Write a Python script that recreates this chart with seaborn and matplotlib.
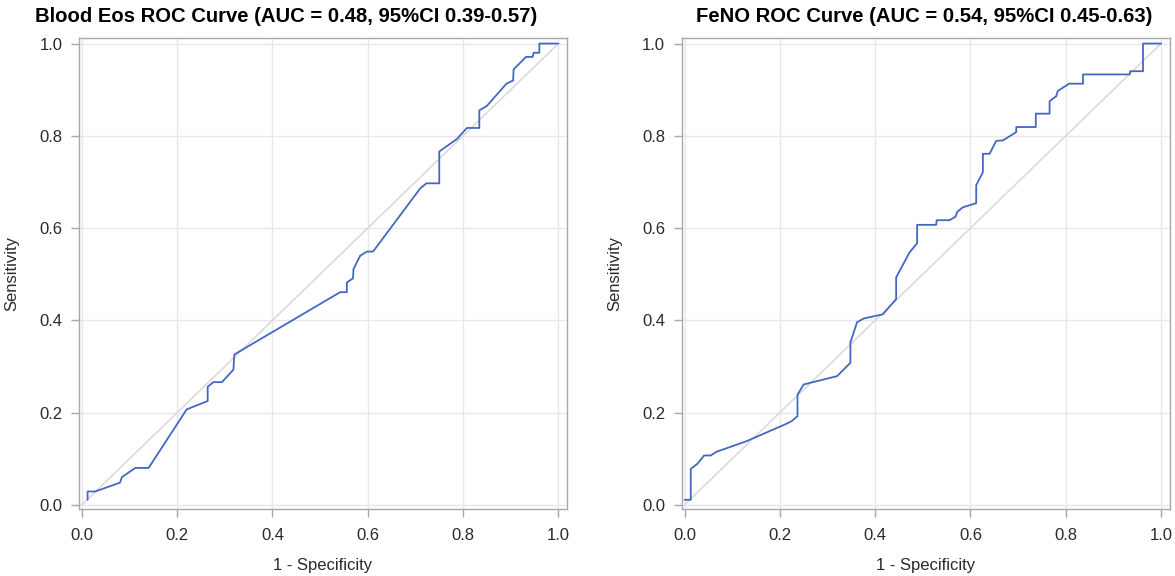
import matplotlib
matplotlib.use("Agg")
import matplotlib.pyplot as plt
import seaborn as sns
import pandas as pd

# ---- data ----
eos_fpr = [0.012, 0.012, 0.028, 0.080, 0.084, 0.112, 0.140, 0.220, 0.264, 0.264,
           0.276, 0.294, 0.318, 0.320, 0.542, 0.556, 0.556, 0.569, 0.570, 0.584,
           0.598, 0.611, 0.710, 0.723, 0.750, 0.750, 0.787, 0.808, 0.834, 0.834,
           0.850, 0.891, 0.905, 0.906, 0.932, 0.946, 0.948, 0.960, 0.960, 1.000]
eos_tpr = [0.011, 0.029, 0.029, 0.048, 0.060, 0.080, 0.080, 0.207, 0.225, 0.256,
           0.266, 0.266, 0.293, 0.326, 0.461, 0.461, 0.482, 0.491, 0.511, 0.540,
           0.549, 0.549, 0.686, 0.697, 0.697, 0.766, 0.793, 0.817, 0.817, 0.855,
           0.865, 0.913, 0.920, 0.944, 0.971, 0.971, 0.980, 0.980, 1.000, 1.000]

feno_fpr = [0.000, 0.013, 0.013, 0.027, 0.041, 0.055, 0.067, 0.130, 0.210, 0.224,
            0.237, 0.237, 0.250, 0.320, 0.348, 0.348, 0.362, 0.376, 0.416, 0.444,
            0.444, 0.472, 0.488, 0.488, 0.528, 0.529, 0.556, 0.569, 0.572, 0.584,
            0.612, 0.612, 0.626, 0.626, 0.640, 0.654, 0.668, 0.696, 0.696, 0.737,
            0.737, 0.766, 0.766, 0.780, 0.783, 0.807, 0.836, 0.836, 0.934, 0.935,
            0.962, 0.962, 1.000]
feno_tpr = [0.011, 0.011, 0.078, 0.089, 0.107, 0.107, 0.115, 0.138, 0.174, 0.181,
            0.192, 0.239, 0.261, 0.279, 0.308, 0.352, 0.396, 0.404, 0.413, 0.446,
            0.493, 0.547, 0.567, 0.607, 0.607, 0.617, 0.617, 0.625, 0.635, 0.645,
            0.654, 0.693, 0.721, 0.761, 0.761, 0.789, 0.790, 0.808, 0.819, 0.819,
            0.848, 0.848, 0.875, 0.886, 0.897, 0.913, 0.913, 0.933, 0.933, 0.940,
            0.940, 1.000, 1.000]

diag = [0.0, 1.0]
ticks = [0.0, 0.2, 0.4, 0.6, 0.8, 1.0]
tick_labels = ["0.0", "0.2", "0.4", "0.6", "0.8", "1.0"]

titles = ["Blood Eos ROC Curve (AUC = 0.48, 95%CI 0.39-0.57)",
          "FeNO ROC Curve (AUC = 0.54, 95%CI 0.45-0.63)"]
xlabel = "1 - Specificity"
ylabel = "Sensitivity"

# ---- style ----
sns.set_theme(style="white")
plt.rcParams["font.family"] = ["Liberation Sans", "DejaVu Sans"]

W, H = 1175, 576
fig = plt.figure(figsize=(W / 100, H / 100), dpi=100)

curve_color = "#4467c2"
diag_color = "#d8d8d8"
grid_color = "#e8e8e8"
frame_color = "#a8a8a8"
text_color = "#2a2a2a"

axes_px = [(79, 38, 567, 509), (681.7, 38, 1169.7, 509)]
title_cx = [286, 924]
datasets = [(eos_fpr, eos_tpr), (feno_fpr, feno_tpr)]

for i, ((l, t, r, b), (fx, fy)) in enumerate(zip(axes_px, datasets)):
    ax = fig.add_axes([l / W, 1 - b / H, (r - l) / W, (b - t) / H])
    df = pd.DataFrame({"fpr": fx, "tpr": fy})
    dd = pd.DataFrame({"x": diag, "y": diag})
    sns.lineplot(data=dd, x="x", y="y", ax=ax, color=diag_color, lw=1.1,
                 sort=False, estimator=None, zorder=2)
    sns.lineplot(data=df, x="fpr", y="tpr", ax=ax, color=curve_color, lw=1.3,
                 sort=False, estimator=None, zorder=3)
    ax.set_xlim(-0.006, 1.018)
    ax.set_ylim(-0.009, 1.012)
    ax.set_xticks(ticks)
    ax.set_xticklabels(tick_labels)
    ax.set_yticks(ticks)
    ax.set_yticklabels(tick_labels)
    ax.grid(True, color=grid_color, lw=1.0, zorder=0)
    ax.set_axisbelow(True)
    for sp in ax.spines.values():
        sp.set_color(frame_color)
        sp.set_linewidth(1.0)
    ax.tick_params(axis="both", which="major", direction="out", length=5.5,
                   width=1.0, color=frame_color, labelsize=12,
                   labelcolor=text_color, bottom=True, left=True)
    ax.tick_params(axis="x", pad=8)
    ax.tick_params(axis="y", pad=6.5)
    ax.set_xlabel(xlabel, fontsize=12, color=text_color, labelpad=11)
    ax.set_ylabel(ylabel, fontsize=12, color=text_color, labelpad=14)
    fig.text(title_cx[i] / W, 1 - 17 / H, titles[i], ha="center", va="center",
             fontsize=14.6, fontweight="bold", color="#000000")

fig.savefig("out.png", dpi=100)
